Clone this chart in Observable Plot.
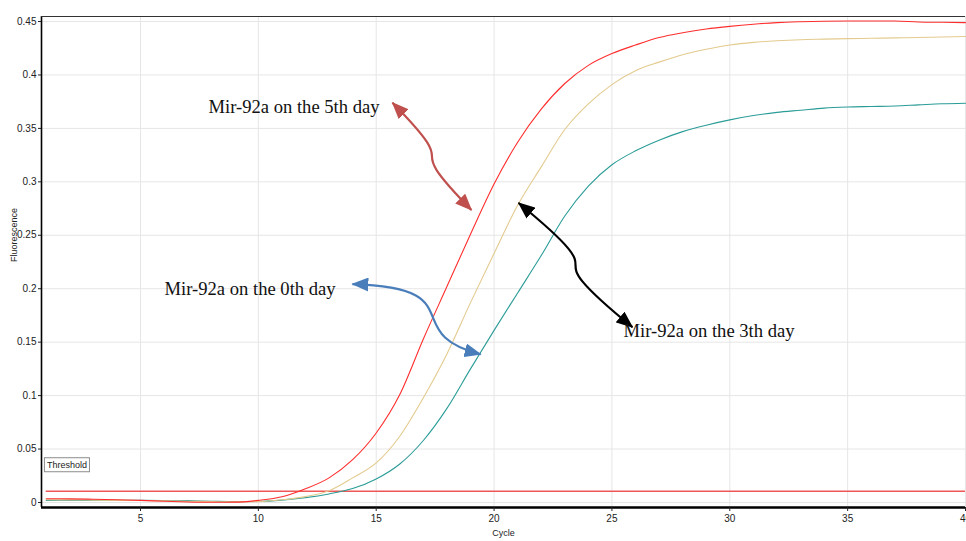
<!DOCTYPE html>
<html>
<head>
<meta charset="utf-8">
<script src="https://cdn.jsdelivr.net/npm/d3@7"></script>
<script src="https://cdn.jsdelivr.net/npm/@observablehq/plot@0.6"></script>
<style>
  html, body { margin: 0; padding: 0; background: #fff; overflow: hidden; }
  #chart svg { display: block; }
</style>
</head>
<body>
<div id="chart"></div>
<script>
// ---------- data ----------
const cycles = d3.range(1, 41);
const day5 = [0.0035,0.0034,0.003,0.0025,0.002,0.0012,0.0005,0.0002,0.0003,0.002,
              0.0053,0.0128,0.023,0.040,0.065,0.101,0.153,0.202,0.251,0.298,
              0.337,0.368,0.392,0.409,0.420,0.428,0.435,0.4395,0.443,0.4455,
              0.4475,0.449,0.4498,0.4503,0.4505,0.4505,0.4505,0.4496,0.4493,0.449];
const day3 = [0.0025,0.0024,0.0022,0.002,0.0018,0.0015,0.0012,0.0008,0.0006,0.0008,
              0.0025,0.0055,0.011,0.023,0.037,0.062,0.098,0.139,0.187,0.233,
              0.278,0.314,0.349,0.373,0.391,0.404,0.412,0.419,0.424,0.428,
              0.4305,0.432,0.433,0.4335,0.434,0.4343,0.4347,0.435,0.4355,0.436];
const day0 = [0.002,0.002,0.002,0.002,0.002,0.0019,0.0017,0.0012,0.0008,0.001,
              0.0022,0.0045,0.008,0.013,0.022,0.036,0.058,0.088,0.125,0.161,
              0.196,0.231,0.268,0.296,0.316,0.329,0.339,0.347,0.353,0.358,
              0.362,0.365,0.367,0.369,0.370,0.3705,0.371,0.372,0.373,0.3735];
const seriesNames = ["Mir-92a on the 0th day", "Mir-92a on the 3th day", "Mir-92a on the 5th day"];
const seriesValues = [day0, day3, day5];
const thresholdValue = 0.0105;
const thresholdLabel = "Threshold";
const xTicks = [5, 10, 15, 20, 25, 30, 35, 40];
const xTickLabels = ["5", "10", "15", "20", "25", "30", "35", "40"];
const yTicks = [0, 0.05, 0.1, 0.15, 0.2, 0.25, 0.3, 0.35, 0.4, 0.45];
const yTickLabels = ["0", "0.05", "0.1", "0.15", "0.2", "0.25", "0.3", "0.35", "0.4", "0.45"];
const xLabel = "Cycle";
const yLabel = "Fluorescence";

// annotation anchors, in data units (cycle, fluorescence)
const labelCycle = [6.02, 25.49, 7.885];
const labelValue = [0.1996, 0.160, 0.370];
const arrowFrom = [[13.99, 0.2043], [21.04, 0.2802], [15.69, 0.374]];
const arrowTo   = [[19.43, 0.1387], [25.87, 0.164], [19.04, 0.2737]];
const thresholdLabelAt = [1.03, 0.0352];

// ---------- styles ----------
const seriesColors = ["#2b9c97", "#e3cb8f", "#ff2e2e"];
const arrowColors = ["#4a7ebb", "#000000", "#c0504d"];
const sansFont = "'Liberation Sans', Arial, sans-serif";
const serifFont = "'Liberation Serif', 'Times New Roman', serif";

// ---------- build tables ----------
const rows = [];
seriesNames.forEach((name, s) => cycles.forEach((c, i) => rows.push({series: name, cycle: c, value: seriesValues[s][i]})));
const labels = seriesNames.map((name, i) => ({text: name, x: labelCycle[i], y: labelValue[i]}));
const arrows = seriesNames.map((name, i) => ({x1: arrowFrom[i][0], y1: arrowFrom[i][1], x2: arrowTo[i][0], y2: arrowTo[i][1]}));

// custom S-shaped cubic curve for the annotation connectors
function sCurve(a1, b1, a2, b2) {
  return (context) => {
    let pts = [];
    return {
      areaStart() {}, areaEnd() {},
      lineStart() { pts = []; },
      point(x, y) { pts.push([+x, +y]); },
      lineEnd() {
        const [x0, y0] = pts[0], [x1, y1] = pts[pts.length - 1];
        const dx = x1 - x0, dy = y1 - y0;
        context.moveTo(x0, y0);
        context.bezierCurveTo(x0 + a1 * dx, y0 + b1 * dy, x1 - a2 * dx, y1 - b2 * dy, x1, y1);
      }
    };
  };
}
const arrowCurves = [sCurve(0.95, 0.05, 0.65, 0.3), sCurve(1, 0.75, 1, 0.75), sCurve(1, 0.75, 1, 0.75)];

const chart = Plot.plot({
  width: 966,
  height: 541,
  marginLeft: 41,
  marginRight: 1,
  marginTop: 16,
  marginBottom: 34,
  style: {fontFamily: sansFont, fontSize: "10px", background: "#fff", color: "#222"},
  x: {domain: [0.8, 40]},
  y: {domain: [-0.0047, 0.4547]},
  color: {domain: seriesNames, range: seriesColors},
  marks: [
    Plot.gridX(xTicks, {stroke: "#e6e6e6", strokeOpacity: 1}),
    Plot.gridY(yTicks, {stroke: "#e6e6e6", strokeOpacity: 1}),
    Plot.ruleY([thresholdValue], {x1: cycles[0], x2: cycles[cycles.length - 1], stroke: "#ef5656", strokeWidth: 1.6}),
    Plot.line(rows, {x: "cycle", y: "value", z: "series", stroke: "series", strokeWidth: 1.1, curve: "monotone-x"}),
    Plot.ruleX([0.8], {stroke: "#000", strokeWidth: 1.6}),
    Plot.ruleY([-0.0047], {stroke: "#000", strokeWidth: 2.6}),
    Plot.ruleY([0.4547], {stroke: "#333", strokeWidth: 1}),
    Plot.axisX(xTicks, {tickSize: 4, tickPadding: 3, tickFormat: d => xTickLabels[xTicks.indexOf(d)], label: null, fontSize: 10}),
    Plot.axisY(yTicks, {tickSize: 3, tickPadding: 2, tickFormat: d => yTickLabels[yTicks.indexOf(d)], label: null, fontSize: 10}),
    Plot.text([xLabel], {frameAnchor: "bottom", dy: 28, fontSize: 9, fill: "#222"}),
    Plot.text([yLabel], {frameAnchor: "left", dx: -27, rotate: -90, fontSize: 9, fill: "#222"}),
    ...arrows.map((a, i) => Plot.link([a], {x1: "x1", y1: "y1", x2: "x2", y2: "y2", stroke: arrowColors[i], strokeWidth: 2.2, curve: arrowCurves[i], className: "arrow-" + i})),
    Plot.text(labels, {x: "x", y: "y", text: "text", textAnchor: "start", fontFamily: serifFont, fontSize: 18.6, fill: "#111"}),
    Plot.text([thresholdLabel], {x: () => thresholdLabelAt[0], y: () => thresholdLabelAt[1], textAnchor: "start", fontSize: 9, fill: "#222", className: "thr-label"})
  ]
});
document.getElementById("chart").append(chart);

// arrowheads (filled triangles at both ends)
const svg = d3.select(chart);
const defs = svg.insert("defs", ":first-child");
arrowColors.forEach((c, i) => {
  defs.append("marker")
    .attr("id", "ah" + i)
    .attr("viewBox", "0 0 17 14")
    .attr("refX", 16).attr("refY", 7)
    .attr("markerUnits", "userSpaceOnUse")
    .attr("markerWidth", 17).attr("markerHeight", 14)
    .attr("orient", "auto-start-reverse")
    .append("path").attr("d", "M0,0L17,7L0,14Z").attr("fill", c);
  svg.selectAll("g.arrow-" + i + " path")
    .attr("marker-start", `url(#ah${i})`)
    .attr("marker-end", `url(#ah${i})`);
});

// box around the threshold label
svg.selectAll("g.thr-label text").each(function() {
  const b = this.getBBox();
  d3.select(this.parentNode).insert("rect", "text")
    .attr("x", b.x - 2.5).attr("y", b.y - 2)
    .attr("width", b.width + 5).attr("height", b.height + 4)
    .attr("transform", this.getAttribute("transform"))
    .attr("fill", "#fff").attr("stroke", "#8c8c8c").attr("stroke-width", 1);
});
</script>
</body>
</html>
